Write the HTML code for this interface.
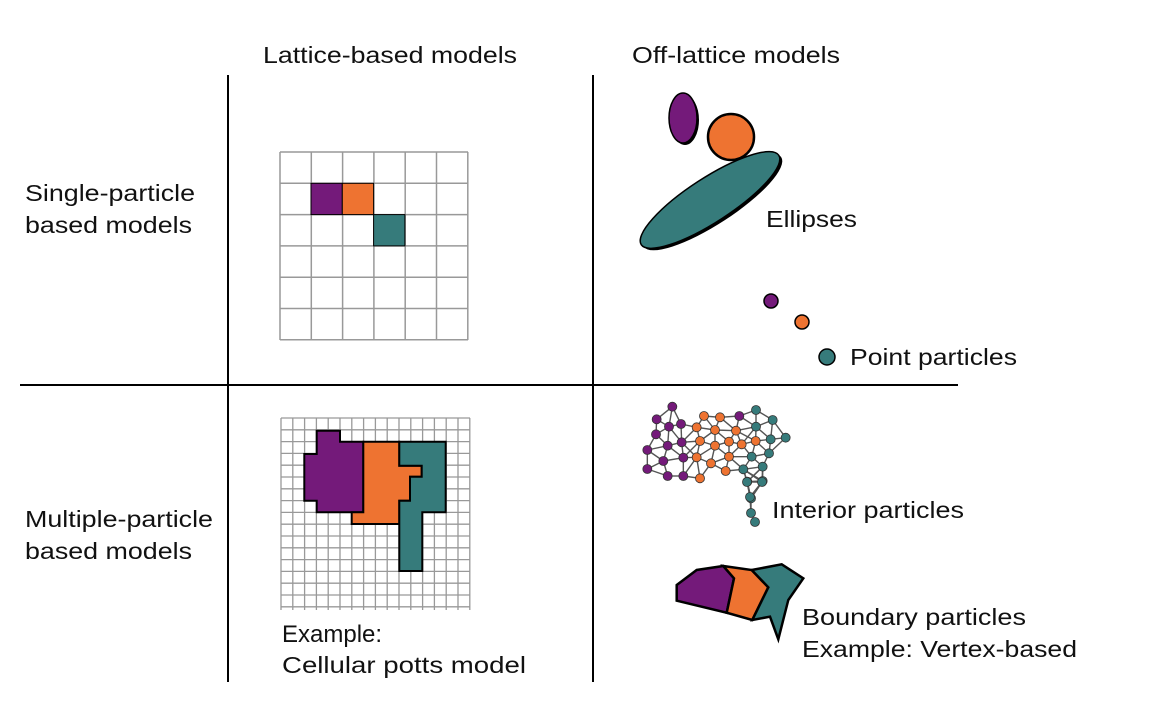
<!DOCTYPE html>
<html><head><meta charset="utf-8"><style>
body{margin:0;background:#fff;width:1176px;height:700px;overflow:hidden}
svg text{font-family:"Liberation Sans",Arial,sans-serif;font-size:23px;fill:#111}
</style></head><body>
<svg id="s" width="1176" height="700" viewBox="0 0 1176 700" xmlns="http://www.w3.org/2000/svg">
<text x="263" y="63" textLength="254" lengthAdjust="spacingAndGlyphs">Lattice-based models</text>
<text x="632" y="63" textLength="208" lengthAdjust="spacingAndGlyphs">Off-lattice models</text>
<text x="25" y="201" textLength="170" lengthAdjust="spacingAndGlyphs">Single-particle</text>
<text x="25" y="233" textLength="167" lengthAdjust="spacingAndGlyphs">based models</text>
<text x="25" y="527" textLength="188" lengthAdjust="spacingAndGlyphs">Multiple-particle</text>
<text x="25" y="559" textLength="167" lengthAdjust="spacingAndGlyphs">based models</text>
<text x="766" y="227" textLength="91" lengthAdjust="spacingAndGlyphs">Ellipses</text>
<text x="850" y="365" textLength="167" lengthAdjust="spacingAndGlyphs">Point particles</text>
<text x="772" y="518" textLength="192" lengthAdjust="spacingAndGlyphs">Interior particles</text>
<text x="802" y="625" textLength="224" lengthAdjust="spacingAndGlyphs">Boundary particles</text>
<text x="802" y="657" textLength="275" lengthAdjust="spacingAndGlyphs">Example: Vertex-based</text>
<text x="282" y="642" style="font-size:24px">Example:</text>
<text x="282" y="673" textLength="244" lengthAdjust="spacingAndGlyphs">Cellular potts model</text>
<line x1="228" y1="75" x2="228" y2="682" stroke="#000" stroke-width="2"/>
<line x1="593" y1="75" x2="593" y2="682" stroke="#000" stroke-width="2"/>
<line x1="20" y1="385" x2="958" y2="385" stroke="#000" stroke-width="2"/>
<g id="g1"></g>
<rect x="311" y="183.3" width="31.3" height="31.3" fill="#741a7a" stroke="#000" stroke-width="1"/>
<rect x="342.3" y="183.3" width="31.3" height="31.3" fill="#ee7331" stroke="#000" stroke-width="1"/>
<rect x="373.6" y="214.6" width="31.3" height="31.3" fill="#367b7b" stroke="#000" stroke-width="1"/>
<g stroke="#000" stroke-width="2" stroke-linejoin="miter">
<polygon fill="#741a7a" points="316.7,430.7 340,430.7 340,441.7 363.3,441.7 363.3,512.3 316.7,512.3 316.7,500.7 304.3,500.7 304.3,454 316.7,454"/>
<polygon fill="#ee7331" points="363.3,441.7 399.3,441.7 399.3,465.7 421.7,465.7 421.7,476.7 410,476.7 410,500.7 399.3,500.7 399.3,524 351.7,524 351.7,512.3 363.3,512.3"/>
<polygon fill="#367b7b" points="399.3,441.7 445.7,441.7 445.7,512.3 422.3,512.3 422.3,571 399.3,571 399.3,500.7 410,500.7 410,476.7 421.7,476.7 421.7,465.7 399.3,465.7"/>
</g>
<ellipse cx="685" cy="120" rx="14" ry="25" fill="#000"/>
<ellipse cx="683" cy="118" rx="14" ry="25" fill="#741a7a" stroke="#000" stroke-width="1.5"/>
<circle cx="731" cy="137" r="23" fill="#ee7331" stroke="#000" stroke-width="2.5"/>
<g transform="translate(710,200) rotate(-33)">
<ellipse cx="1" cy="3" rx="82" ry="22" fill="#000"/>
<ellipse cx="0" cy="0" rx="82" ry="22" fill="#367b7b" stroke="#000" stroke-width="1.5"/>
</g>
<circle cx="771" cy="301" r="7" fill="#741a7a" stroke="#000" stroke-width="1.5"/>
<circle cx="802" cy="322" r="7" fill="#ee7331" stroke="#000" stroke-width="1.5"/>
<circle cx="827" cy="357" r="8" fill="#367b7b" stroke="#000" stroke-width="1.5"/>
<g id="net"></g>
<g stroke="#000" stroke-width="2.5" stroke-linejoin="miter">
<polygon fill="#741a7a" points="676.7,585 696.7,570 723.3,566 734,578.3 726.7,612.7 676.7,600.7"/>
<polygon fill="#ee7331" points="723.3,566 751.7,570 768.3,587.3 752.3,620 726.7,612.7 734,578.3"/>
<polygon fill="#367b7b" points="751.7,570 781.7,564.3 803.3,578.3 788.3,600 778.3,639.3 770,616.7 752.3,620 768.3,587.3"/>
</g>
</svg>
<script>
var NS="http://www.w3.org/2000/svg";
function el(p,t,a){var e=document.createElementNS(NS,t);for(var k in a)e.setAttribute(k,a[k]);p.appendChild(e);return e;}
var g1=document.getElementById('g1');
for(var i=0;i<=6;i++){var v=280+i*31.3;el(g1,'line',{x1:v,y1:152,x2:v,y2:340,stroke:'#999','stroke-width':1.5});
var h=152+i*31.3;el(g1,'line',{x1:280,y1:h,x2:468,y2:h,stroke:'#999','stroke-width':1.5});}
for(var i=0;i<=16;i++){var v=281+i*11.8;el(g1,'line',{x1:v,y1:418,x2:v,y2:610,stroke:'#999','stroke-width':1.3});
var h=418+i*11.8;el(g1,'line',{x1:281,y1:h,x2:470,y2:h,stroke:'#999','stroke-width':1.3});}
var P='#741a7a',O='#ee7331',T='#367b7b';
var raw=[[127,20,P],[80,58,P],[117,80,P],[153,72,P],[78,103,P],[113,137,P],[155,127,P],[52,150,P],[100,183,P],[160,173,P],[52,207,P],[113,228,P],[160,228,P],
[222,48,O],[270,52,O],[200,82,O],[255,90,O],[318,92,O],[210,123,O],[255,137,O],[297,125,O],[335,133,O],[377,123,O],[200,172,O],[243,190,O],[297,170,O],[210,235,O],[287,213,O],[328,48,P],
[378,30,T],[428,60,T],[378,80,T],[422,118,T],[467,113,T],[417,160,T],[365,170,T],[398,200,T],[340,208,T],[352,245,T],[398,243,T],[363,295,T]];
var n=raw.map(function(r){return [630+r[0]/3,400+r[1]/3,r[2]];});
n.push([747,482,T],[762,482,T],[750,497,T],[751,513,T],[755,522,T]);
var net=document.getElementById('net');
for(var i=0;i<n.length;i++)for(var j=i+1;j<n.length;j++){var dx=n[i][0]-n[j][0],dy=n[i][1]-n[j][1];if(Math.sqrt(dx*dx+dy*dy)<24)el(net,'line',{x1:n[i][0],y1:n[i][1],x2:n[j][0],y2:n[j][1],stroke:'#555','stroke-width':1.4});}
n.forEach(function(p){el(net,'circle',{cx:p[0],cy:p[1],r:4.5,fill:p[2],stroke:'#333','stroke-width':0.8});});
</script>
</body></html>
